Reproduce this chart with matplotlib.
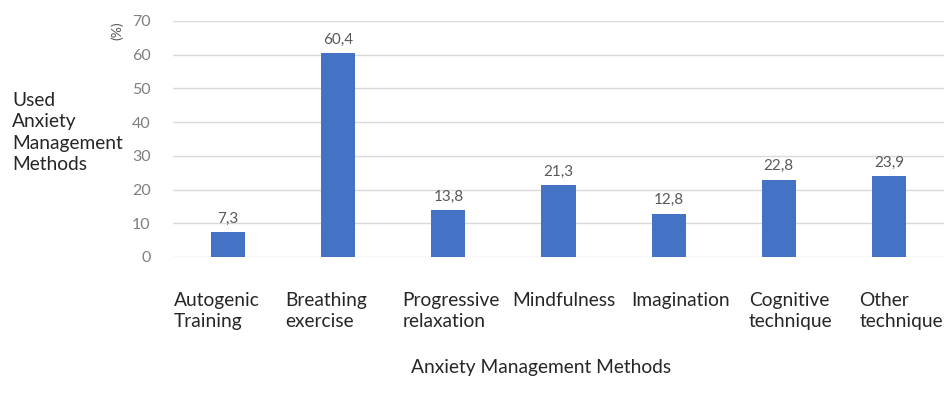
import numpy as np
import matplotlib.pyplot as plt
from matplotlib.transforms import ScaledTranslation

plt.rcParams['font.family'] = ['Lato', 'DejaVu Sans']

methods = ["Autogenic\nTraining", "Breathing\nexercise", "Progressive\nrelaxation",
           "Mindfulness", "Imagination", "Cognitive\ntechnique", "Other\ntechnique"]
percent = [7.3, 60.4, 13.8, 21.3, 12.8, 22.8, 23.9]
yticks = [0, 10, 20, 30, 40, 50, 60, 70]

fig = plt.figure(figsize=(9.52, 4.03), dpi=100)
ax = fig.add_axes([0.1817, 0.3623, 0.81, 0.5856])

x = np.arange(len(methods))
bars = ax.bar(x, percent, width=0.31, color='#4472C4', zorder=3)
for b, v in zip(bars, percent):
    ax.text(b.get_x() + b.get_width() / 2, v + 2.0, f"{v:.1f}".replace('.', ','),
            ha='center', va='bottom', fontsize=11, color='#595959')

ax.set_xlim(-0.5, len(methods) - 0.5)
ax.set_ylim(0, 70)
ax.set_yticks(yticks)
ax.set_yticklabels([str(t) for t in yticks], color='#7f7f7f', fontsize=11.5)
ax.set_xticks(x)
ax.set_xticklabels(methods, fontsize=13.8, color='#262626', multialignment='left',
                   linespacing=1.3)
ax.tick_params(axis='y', length=0, pad=16)
ax.tick_params(axis='x', length=0, pad=25)
# nudge the category labels sideways like the original layout
shifts = [-11, -12, 3, 5, 12, 12, 12]
for lab, dx in zip(ax.get_xticklabels(), shifts):
    lab.set_transform(lab.get_transform() + ScaledTranslation(dx / 100, 0, fig.dpi_scale_trans))
ax.grid(axis='y', color='#d9d9d9', linewidth=1, zorder=0)
for s in ax.spines.values():
    s.set_visible(False)

fig.text(0.013, 0.671, "Used\nAnxiety\nManagement\nMethods", ha='left', va='center',
         fontsize=13.8, color='#262626', linespacing=1.3)
fig.text(0.123, 0.923, "(%)", rotation=90, ha='center', va='center',
         fontsize=10, color='#595959')
fig.text(0.568, 0.089, "Anxiety Management Methods", ha='center', va='center',
         fontsize=13.8, color='#262626')

fig.savefig('out.png', dpi=100)
